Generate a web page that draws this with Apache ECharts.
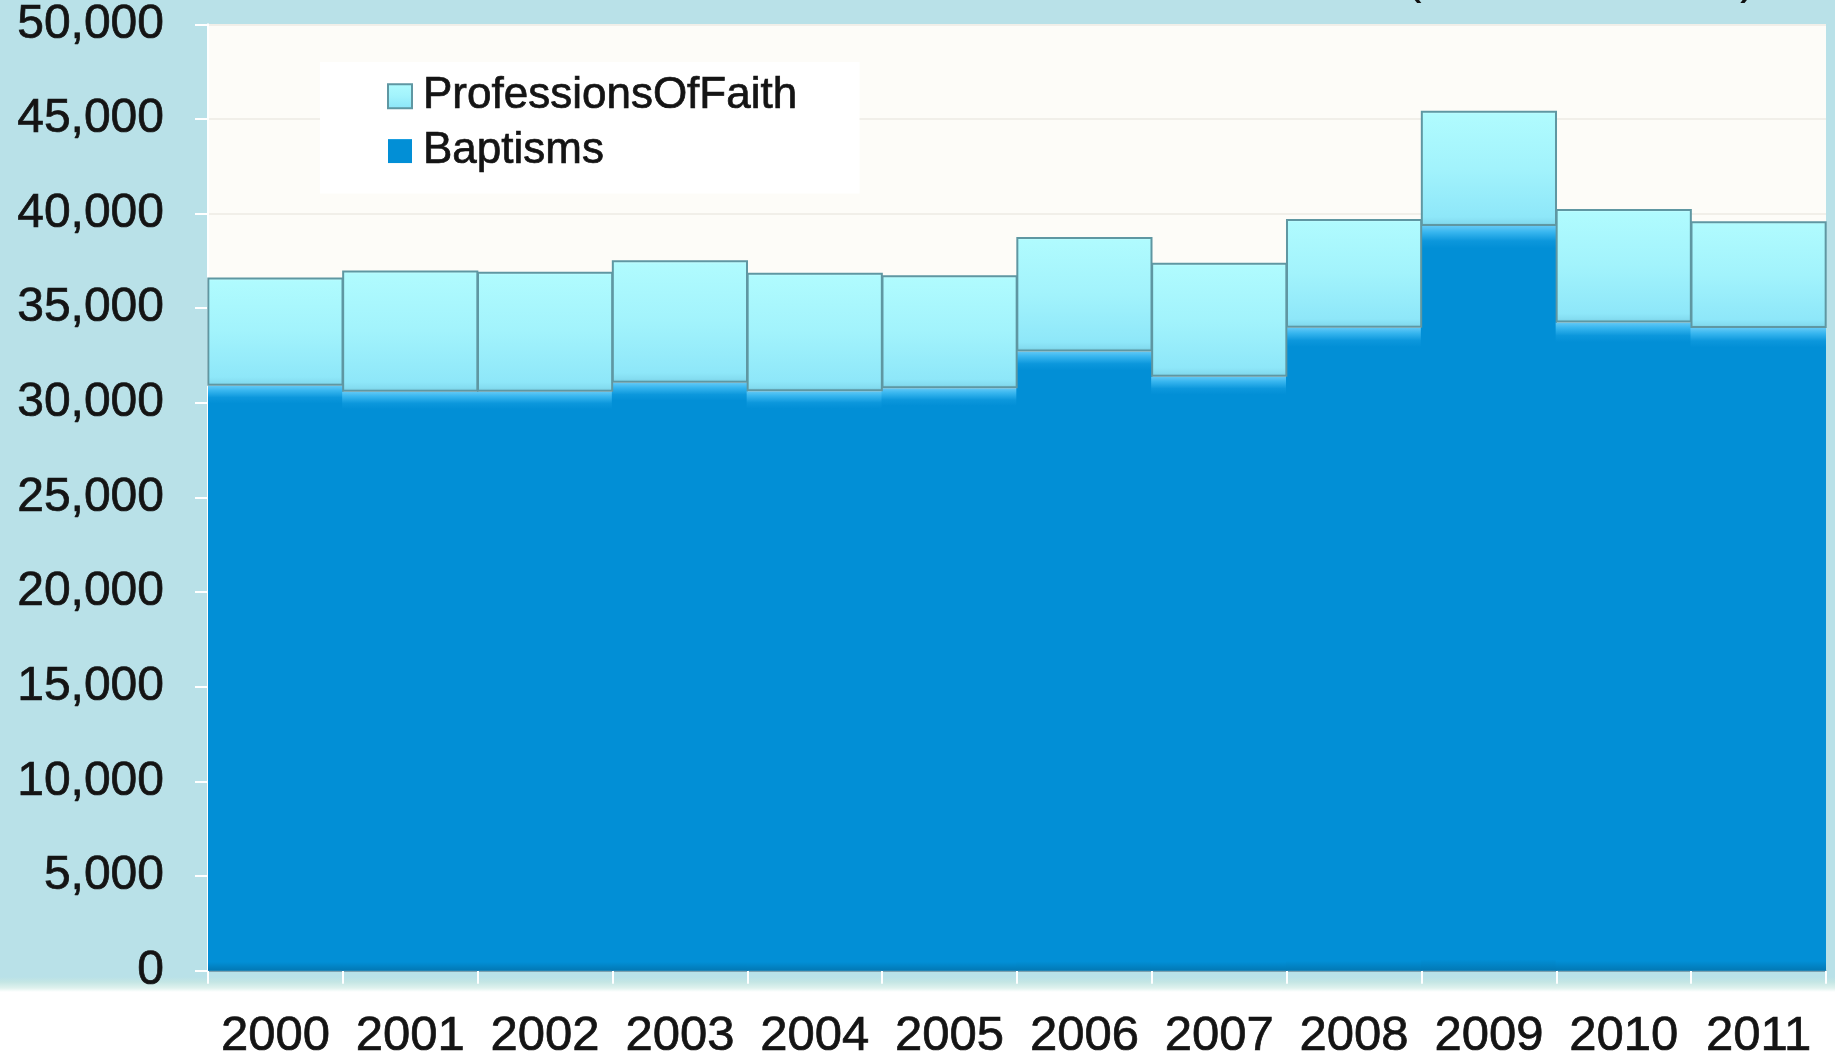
<!DOCTYPE html>
<html>
<head>
<meta charset="utf-8">
<script src="https://cdn.jsdelivr.net/npm/echarts@6/dist/echarts.min.js"></script>
<style>
html,body{margin:0;padding:0;width:1835px;height:1061px;overflow:hidden;
background:linear-gradient(to bottom,#b9e1e8 0px,#b9e1e8 977px,#c4e6e4 982px,#dff2ee 988px,#ffffff 992px,#ffffff 1061px);}
#chart{width:1835px;height:1061px;}
</style>
</head>
<body>
<div id="chart"></div>
<script>
const years = ['2000','2001','2002','2003','2004','2005','2006','2007','2008','2009','2010','2011'];
const baptisms = [30900, 30590, 30590, 31060, 30620, 30770, 32720, 31380, 33970, 39340, 34240, 33950];
const professionsOfFaith = [5720, 6410, 6340, 6470, 6260, 5970, 6050, 6020, 5750, 6100, 6000, 5650];
const yTicks = {min: 0, max: 50000, interval: 5000};

const chart = echarts.init(document.getElementById('chart'), null, {renderer: 'canvas'});
const font = '"Liberation Sans", Arial, sans-serif';

const lightGrad = new echarts.graphic.LinearGradient(0, 0, 0, 1, [
  {offset: 0, color: '#d6feff'},
  {offset: 0.03, color: '#b0fbfe'},
  {offset: 0.5, color: '#a2f3fc'},
  {offset: 0.92, color: '#8ee7f9'},
  {offset: 0.97, color: '#84dcf0'},
  {offset: 1, color: '#6fc3d6'}
]);
const darkGrad = new echarts.graphic.LinearGradient(0, 0, 0, 1, [
  {offset: 0, color: '#62c9f6'},
  {offset: 0.008, color: '#38b6ef'},
  {offset: 0.02, color: '#0c97dc'},
  {offset: 0.03, color: '#028fd6'},
  {offset: 0.985, color: '#028fd6'},
  {offset: 1, color: '#0278b4'}
]);
const txt = {fontFamily: font, color: '#141414', textBorderColor: '#141414', textBorderWidth: 0.7};

chart.setOption({
  animation: false,
  grid: {left: 208, right: 9, top: 23, bottom: 84, show: true, backgroundColor: '#fdfcf8', borderWidth: 0},
  legend: {
    data: ['ProfessionsOfFaith', 'Baptisms'],
    orient: 'vertical',
    left: 320, top: 62,
    backgroundColor: '#ffffff',
    padding: [12, 62, 20, 67],
    itemWidth: 24, itemHeight: 24, itemGap: 10,
    icon: 'rect',
    textStyle: Object.assign({fontSize: 44, padding: [0, 0, 0, 6]}, txt)
  },
  graphic: [
    {type: 'text', left: 1405, top: -46, style: {text: '(', fontFamily: font, fontSize: 50, fill: '#111'}},
    {type: 'text', left: 1740, top: -46, style: {text: ')', fontFamily: font, fontSize: 50, fill: '#111'}}
  ],
  xAxis: {
    type: 'category',
    data: years,
    boundaryGap: true,
    axisLine: {show: true, lineStyle: {color: '#7fa2b0', width: 2}},
    axisTick: {show: true, length: 13, lineStyle: {color: '#ffffff', width: 2}},
    axisLabel: Object.assign({interval: 0, fontSize: 49, margin: 41}, txt),
    splitLine: {show: false}
  },
  yAxis: {
    type: 'value',
    min: yTicks.min, max: yTicks.max, interval: yTicks.interval,
    axisLine: {show: true, lineStyle: {color: '#ffffff', width: 2}},
    axisTick: {show: true, length: 13, lineStyle: {color: '#ffffff', width: 2}},
    axisLabel: Object.assign({fontSize: 48, margin: 44, padding: [8, 0, 0, 0],
      formatter: v => v.toLocaleString('en-US')}, txt),
    splitLine: {show: true, lineStyle: {color: '#f1efe9', width: 2}}
  },
  series: [
    {
      name: 'Baptisms', type: 'bar', stack: 'total', data: baptisms,
      barCategoryGap: '-1%',
      itemStyle: {color: darkGrad, borderWidth: 0},
      emphasis: {disabled: true}
    },
    {
      name: 'ProfessionsOfFaith', type: 'bar', stack: 'total', data: professionsOfFaith,
      barCategoryGap: '-1%',
      itemStyle: {color: lightGrad, borderColor: '#5f97a2', borderWidth: 2},
      emphasis: {disabled: true}
    }
  ]
});
</script>
</body>
</html>
